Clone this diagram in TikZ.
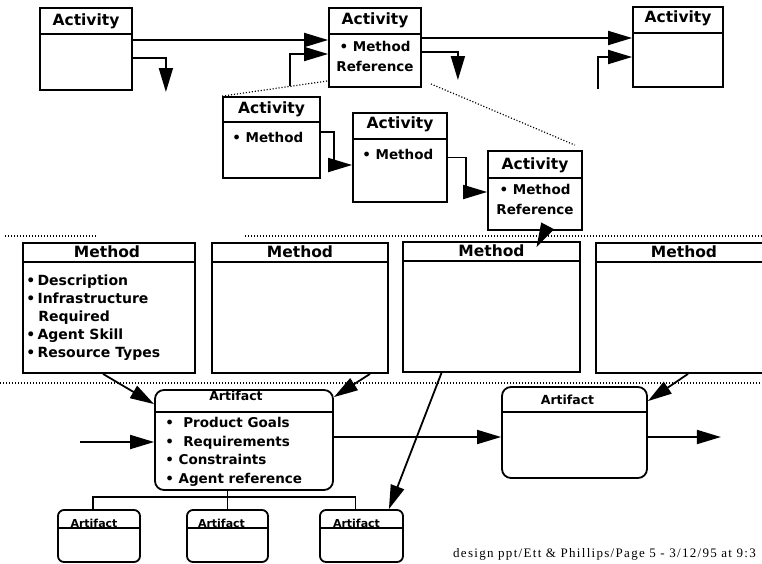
\documentclass[tikz,border=0pt]{standalone}
\usepackage{fontspec}
\setmainfont{DejaVu Sans}
\newfontfamily\footfont[LetterSpace=10]{Liberation Serif}
\usetikzlibrary{arrows.meta}

\begin{document}
\begin{tikzpicture}[
  x = 1pt, y = -1pt,
  box/.style={draw, line width=1.8pt, inner sep=0pt},
  artbox/.style={box, rounded corners=9pt},
  minibox/.style={box, rounded corners=6pt},
  ttl/.style={font=\fontsize{15.5}{18}\selectfont\bfseries, inner sep=0pt, anchor=base},
  arttl/.style={font=\fontsize{12.5}{15}\selectfont\bfseries, inner sep=0pt, anchor=base},
  minittl/.style={font=\fontsize{11}{13}\selectfont\bfseries, inner sep=0pt, anchor=base},
  body/.style={font=\fontsize{13.5}{20}\selectfont\bfseries, inner sep=0pt},
  sep/.style={line width=1.8pt},
  flow/.style={-{Triangle[length=24pt, width=14pt]}, line width=1.8pt},
  link/.style={line width=1.4pt},
  zoomline/.style={line width=1.2pt, dash pattern=on 1.1pt off 1.9pt}
]
  \useasboundingbox (0, 0) rectangle (762, 563);

  % activities
  \node[box, minimum width=92pt, minimum height=82pt] (A1) at (86, 49) {};
  \node[box, minimum width=92pt, minimum height=79pt] (A2) at (375, 47.5) {};
  \node[box, minimum width=90pt, minimum height=80pt] (A3) at (678, 47) {};
  \node[box, minimum width=97pt, minimum height=81pt] (S1) at (271.5, 137.5) {};
  \node[box, minimum width=94pt, minimum height=89pt] (S2) at (400, 157.5) {};
  \node[box, minimum width=94pt, minimum height=79pt] (S3) at (535, 190.5) {};

  \node[ttl] (A1t) at ([yshift=-18pt]A1.north) {Activity};
  \node[ttl] (A2t) at ([yshift=-17pt]A2.north) {Activity};
  \node[ttl] (A3t) at ([yshift=-16pt]A3.north) {Activity};
  \node[ttl] (S1t) at ([yshift=-17pt]S1.north) {Activity};
  \node[ttl] (S2t) at ([yshift=-16pt]S2.north) {Activity};
  \node[ttl] (S3t) at ([yshift=-19pt]S3.north) {Activity};
  \draw[sep] ([yshift=-27pt]A1.north west) -- ([yshift=-27pt]A1.north east);
  \draw[sep] ([yshift=-27pt]A2.north west) -- ([yshift=-27pt]A2.north east);
  \draw[sep] ([yshift=-27pt]A3.north west) -- ([yshift=-27pt]A3.north east);
  \draw[sep] ([yshift=-26pt]S1.north west) -- ([yshift=-26pt]S1.north east);
  \draw[sep] ([yshift=-27pt]S2.north west) -- ([yshift=-27pt]S2.north east);
  \draw[sep] ([yshift=-28pt]S3.north west) -- ([yshift=-28pt]S3.north east);

  \node[body, align=center, anchor=north] (A2b) at ([yshift=-34pt]A2.north) {• Method\\Reference};
  \node[body, anchor=north west] (S1b) at ([xshift=10pt, yshift=-36pt]S1.north west) {• Method};
  \node[body, anchor=north west] (S2b) at ([xshift=10pt, yshift=-37pt]S2.north west) {• Method};
  \node[body, align=center, anchor=north] (S3b) at ([yshift=-34pt]S3.north) {• Method\\Reference};

  \coordinate (inA2) at (290, 86);
  \coordinate (inA3) at (598, 89);

  \draw[flow] ([yshift=9pt]A1.east) -- ([yshift=7.5pt]A2.west);
  \draw[flow] ([yshift=-9pt]A1.east) -| +(33, 34);
  \draw[flow] (inA2) |- ([yshift=-6.5pt]A2.west);
  \draw[flow] ([yshift=9.5pt]A2.east) -- ([yshift=9pt]A3.west);
  \draw[flow] ([yshift=-4.5pt]A2.east) -| +(36, 28);
  \draw[flow] (inA3) |- ([yshift=-10pt]A3.west);
  \draw[flow] ([yshift=5.5pt]S1.east) -- ++(13, 0) |- ([yshift=-7.5pt]S2.west);
  \draw[flow] (S2.east) -- ++(18, 0) |- ([yshift=-1.5pt]S3.west);

  \draw[zoomline] (S1.north west) -- ([yshift=7pt]A2.south west);
  \draw[zoomline] ([xshift=9pt, yshift=4pt]A2.south east) -- ([xshift=-8pt, yshift=5pt]S3.north east);

  % methods
  \draw[zoomline] (5, 236) -- (97, 236);
  \draw[zoomline] (245, 236) -- (762, 236);

  \node[box, minimum width=172pt, minimum height=130pt] (M1) at (109, 308) {};
  \node[box, minimum width=176pt, minimum height=130pt] (M2) at (300, 308) {};
  \node[box, minimum width=177pt, minimum height=130pt] (M3) at (491.5, 307) {};
  \node[box, minimum width=176pt, minimum height=130pt] (M4) at (684, 308) {};

  \node[ttl] (M1t) at ([xshift=-2pt, yshift=-15pt]M1.north) {Method};
  \node[ttl] (M2t) at ([yshift=-15pt]M2.north) {Method};
  \node[ttl] (M3t) at ([yshift=-15pt]M3.north) {Method};
  \node[ttl] (M4t) at ([yshift=-15pt]M4.north) {Method};
  \draw[sep] ([yshift=-20pt]M1.north west) -- ([yshift=-20pt]M1.north east);
  \draw[sep] ([yshift=-20pt]M2.north west) -- ([yshift=-20pt]M2.north east);
  \draw[sep] ([yshift=-20pt]M3.north west) -- ([yshift=-20pt]M3.north east);
  \draw[sep] ([yshift=-20pt]M4.north west) -- ([yshift=-20pt]M4.north east);

  \node[body, font=\fontsize{14}{17.8}\selectfont\bfseries, align=left, anchor=north west] (M1b)
    at ([xshift=4pt, yshift=-33pt]M1.north west)
    {•\,Description\\•\,Infrastructure\\\hspace*{12pt}Required\\•\,Agent Skill\\•\,Resource Types};

  \draw[flow] ([xshift=10pt]S3.south) -- ([xshift=45pt, yshift=-6pt]M3.north);

  % artifacts
  \draw[zoomline] (0, 383) -- (762, 383);

  \node[artbox, minimum width=178pt, minimum height=100pt] (AR1) at (244, 440) {};
  \node[artbox, minimum width=145pt, minimum height=91pt] (AR2) at (574.5, 432.5) {};
  \node[minibox, minimum width=82pt, minimum height=52pt] (SA1) at (99, 536) {};
  \node[minibox, minimum width=81pt, minimum height=52pt] (SA2) at (227.5, 536) {};
  \node[minibox, minimum width=83pt, minimum height=52pt] (SA3) at (361.5, 536) {};

  \node[arttl] (AR1t) at ([xshift=-8pt, yshift=-11pt]AR1.north) {Artifact};
  \node[arttl] (AR2t) at ([xshift=-7pt, yshift=-18pt]AR2.north) {Artifact};
  \node[minittl] (SA1t) at ([xshift=-5pt, yshift=-18pt]SA1.north) {Artifact};
  \node[minittl] (SA2t) at ([xshift=-6pt, yshift=-18pt]SA2.north) {Artifact};
  \node[minittl] (SA3t) at ([xshift=-5pt, yshift=-18pt]SA3.north) {Artifact};
  \draw[sep] ([yshift=-23pt]AR1.north west) -- ([yshift=-23pt]AR1.north east);
  \draw[sep] ([yshift=-26pt]AR2.north west) -- ([yshift=-26pt]AR2.north east);
  \draw[sep] ([yshift=-19pt]SA1.north west) -- ([yshift=-19pt]SA1.north east);
  \draw[sep] ([yshift=-19pt]SA2.north west) -- ([yshift=-19pt]SA2.north east);
  \draw[sep] ([yshift=-19pt]SA3.north west) -- ([yshift=-19pt]SA3.north east);

  \node[body, font=\fontsize{13.5}{18.5}\selectfont\bfseries, align=left, anchor=north west] (AR1b)
    at ([xshift=11pt, yshift=-28pt]AR1.north west)
    {•\ \ Product Goals\\•\ \ Requirements\\• Constraints\\• Agent reference};

  \coordinate (inAR1) at (80, 442);

  \draw[flow] ([xshift=-6pt]M1.south) -- ([yshift=-15pt]AR1.north west);
  \draw[flow] ([xshift=70pt]M2.south) -- ([yshift=-8pt]AR1.north east);
  \draw[flow] ([xshift=-50pt]M3.south) -- ([xshift=-15pt]SA3.north east);
  \draw[flow] ([xshift=4pt]M4.south) -- ([yshift=-15pt]AR2.north east);
  \draw[flow] (inAR1) -- ([yshift=-2pt]AR1.west);
  \draw[flow] ([yshift=3pt]AR1.east) -- ([yshift=-4.5pt]AR2.west);
  \draw[flow] ([yshift=-4.5pt]AR2.east) -- ++(73, 0);

  \draw[link] (SA2.north) -- (SA2.north |- AR1.south);
  \draw[link] ([xshift=-6pt]SA1.north) -- ++(0, -12) -| ([xshift=-6pt]SA3.north);

  \node[font=\footfont\fontsize{13}{15}\selectfont, inner sep=0pt, anchor=base west] (foot)
    at (453, 557) {design ppt/Ett \& Phillips/Page 5 - 3/12/95 at 9:3};

\end{tikzpicture}
\end{document}
